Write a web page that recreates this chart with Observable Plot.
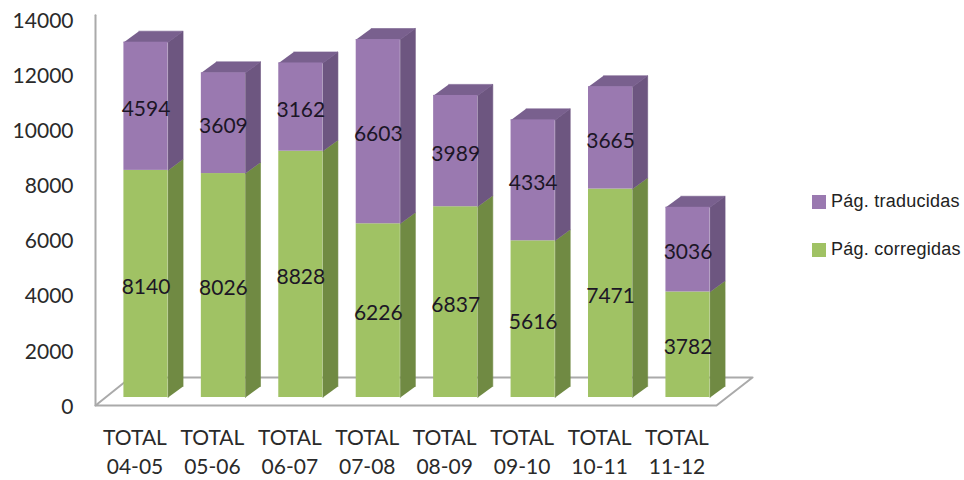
<!DOCTYPE html>
<html><head><meta charset="utf-8">
<script src="https://cdn.jsdelivr.net/npm/d3@7"></script>
<script src="https://cdn.jsdelivr.net/npm/@observablehq/plot@0.6"></script>
<style>
html,body{margin:0;padding:0;background:#fff;width:964px;height:480px;overflow:hidden}
#wrap{position:relative;width:964px;height:480px}
.lg{position:absolute;left:812px;font:18px "Liberation Sans",Arial,sans-serif;letter-spacing:.25px;color:#222;white-space:nowrap;display:flex;align-items:center;gap:5px}
.lg i{display:block;width:14px;height:14px}
</style></head>
<body><div id="wrap"></div>
<script>
const years = ["04-05","05-06","06-07","07-08","08-09","09-10","10-11","11-12"];
const corregidas = [8140,8026,8828,6226,6837,5616,7471,3782];
const traducidas = [4594,3609,3162,6603,3989,4334,3665,3036];
const yTicks = [0,2000,4000,6000,8000,10000,12000,14000];
const greenFront="#a0c264", greenSide="#708a43";
const purpleFront="#9a79b0", purpleSide="#6d5680", purpleTop="#79608e";
const axisGrey="#aaaaaa", ink="#1c1626";

// Oblique 3D projection, in scale units
const halfW=0.285, depthX=0.194, depthY=400, floorLift=290, stretch=1.012;
const lift=v=>floorLift+v*stretch;

const fronts=[], polys=[], labels=[];
function addSegment(i,v0,v1,front,side,name,value){
  const a=lift(v0), b=lift(v1), L=i-halfW, R=i+halfW;
  fronts.push({x1:L,x2:R,y1:a,y2:b,fill:front});
  const sid=`s${i}${name}`;
  [[R,a],[R,b],[R+depthX,b+depthY],[R+depthX,a+depthY]].forEach(p=>polys.push({id:sid,x:p[0],y:p[1],fill:side}));
  labels.push({x:i,y:(a+b)/2,text:String(value)});
}
years.forEach((_,i)=>{
  addSegment(i,0,corregidas[i],greenFront,greenSide,"c",corregidas[i]);
  addSegment(i,corregidas[i],corregidas[i]+traducidas[i],purpleFront,purpleSide,"t",traducidas[i]);
  const t=lift(corregidas[i]+traducidas[i]), L=i-halfW, R=i+halfW;
  [[L,t],[R,t],[R+depthX,t+depthY],[L+depthX,t+depthY]].forEach(p=>polys.push({id:`top${i}`,x:p[0],y:p[1],fill:purpleTop}));
});
const xMin=-0.652, xMax=7.833, floorBack=1016;
const floor=[[xMin,0],[xMax-0.465,0],[xMax,floorBack],[xMin+0.452,floorBack],[xMin,0]].map(p=>({x:p[0],y:p[1]}));
const wall=[{x:xMin,y:0},{x:xMin,y:14150}];

const chart=Plot.plot({
  width:964,height:480,marginLeft:95,marginRight:212,marginTop:19,marginBottom:75,
  style:{background:"transparent",fontFamily:"Lato, sans-serif"},
  x:{type:"linear",domain:[xMin,xMax],axis:null},
  y:{domain:[0,14000],axis:null},
  marks:[
    Plot.line(floor,{x:"x",y:"y",stroke:axisGrey,strokeWidth:2}),
    Plot.line(wall,{x:"x",y:"y",stroke:axisGrey,strokeWidth:2}),
    Plot.line(polys,{x:"x",y:"y",z:"id",fill:"fill",stroke:"fill",strokeWidth:0.6}),
    Plot.rect(fronts,{x1:"x1",x2:"x2",y1:"y1",y2:"y2",fill:"fill"}),
    Plot.text(labels,{x:"x",y:"y",text:"text",dy:3,fill:ink,fontSize:21}),
    Plot.axisY({ticks:yTicks,tickSize:0,tickPadding:22,tickFormat:d=>String(d),fontSize:21,color:"#2a2a2a",anchor:"left",label:null,dy:1.5}),
    Plot.text(years.map((y,i)=>({x:i,t:"TOTAL\n"+y})),{x:"x",frameAnchor:"bottom",text:"t",dx:-11,dy:19,lineHeight:1.38,lineAnchor:"top",fontSize:21,fill:"#2a2a2a"})
  ]
});
const wrap=document.getElementById("wrap");
wrap.appendChild(chart);
[["Pág. traducidas",purpleFront,191],["Pág. corregidas",greenFront,239]].forEach(([t,c,top])=>{
  const d=document.createElement("div");d.className="lg";d.style.top=top+"px";
  const sw=document.createElement("i");sw.style.background=c;
  const s=document.createElement("span");s.textContent=t;
  d.append(sw,s);wrap.appendChild(d);
});
</script></body></html>
